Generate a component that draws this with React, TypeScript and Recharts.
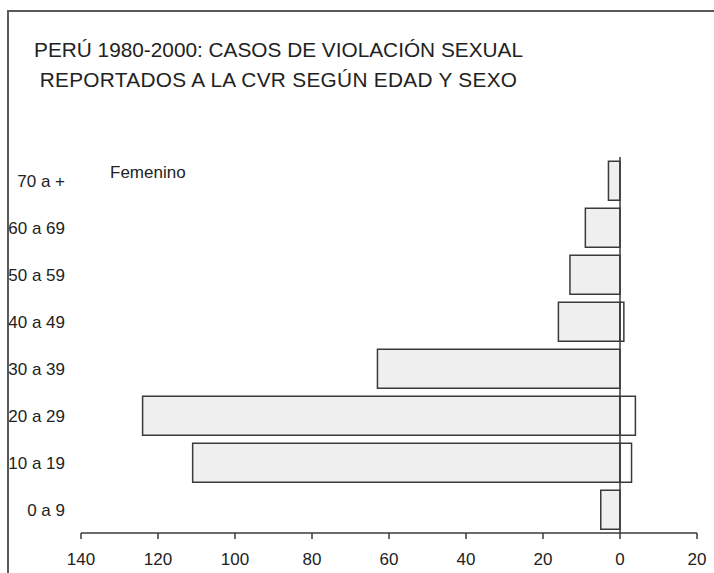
import { Bar, BarChart, ReferenceLine, XAxis, YAxis } from "recharts";

const ageGroups = ["0 a 9", "10 a 19", "20 a 29", "30 a 39", "40 a 49", "50 a 59", "60 a 69", "70 a +"];
const femenino = [5, 111, 124, 63, 16, 13, 9, 3];
const masculino = [0, 3, 4, 0, 1, 0, 0, 0];
const xTicks = [-140, -120, -100, -80, -60, -40, -20, 0, 20];

const FONT = '"Liberation Sans", Arial, sans-serif';
const INK = "#3a3a3a";

const data = ageGroups.map((age, i) => ({
  age,
  femenino: -femenino[i],
  masculino: masculino[i],
}));

export default function App() {
  return (
    <div
      style={{
        position: "fixed",
        left: 0,
        top: 0,
        width: 714,
        height: 573,
        overflow: "hidden",
        background: "#fff",
        fontFamily: FONT,
      }}
    >
      {/* frame, cut off at the right and bottom */}
      <div
        style={{
          position: "absolute",
          left: 7,
          top: 10,
          width: 760,
          height: 620,
          borderLeft: "2px solid #5a5a5a",
          borderTop: "2px solid #5a5a5a",
        }}
      />

      <div
        style={{
          position: "absolute",
          left: 0,
          top: 35,
          width: 557,
          textAlign: "center",
          fontSize: 20.8,
          lineHeight: "30px",
          color: "#222",
        }}
      >
        <div>PERÚ 1980-2000: CASOS DE VIOLACIÓN SEXUAL</div>
        <div style={{ letterSpacing: 0.3 }}>REPORTADOS A LA CVR SEGÚN EDAD Y SEXO</div>
      </div>

      <div
        style={{
          position: "absolute",
          left: 110,
          top: 163,
          fontSize: 17,
          color: "#222",
        }}
      >
        Femenino
      </div>

      <div style={{ position: "absolute", left: 0, top: 0 }}>
        <BarChart
          width={714}
          height={573}
          data={data}
          layout="vertical"
          stackOffset="sign"
          barCategoryGap="9%"
          margin={{ top: 157, right: 17, bottom: 8, left: 0 }}
        >
          <XAxis
            type="number"
            domain={[-140, 20]}
            ticks={xTicks}
            allowDataOverflow
            tickFormatter={(v) => String(Math.abs(v))}
            tick={{ fontSize: 17, fill: "#222", fontFamily: FONT }}
            axisLine={{ stroke: INK, strokeWidth: 1.5 }}
            tickLine={{ stroke: INK, strokeWidth: 1.5 }}
            tickSize={6}
            tickMargin={14}
            height={32}
          />
          <YAxis
            type="category"
            dataKey="age"
            reversed
            width={81}
            axisLine={false}
            tickLine={false}
            tickSize={6}
            tickMargin={10}
            tick={{ fontSize: 17, fill: "#222", fontFamily: FONT }}
          />
          <ReferenceLine x={0} stroke={INK} strokeWidth={1.5} />
          <Bar
            dataKey="femenino"
            stackId="edad"
            fill="#efefef"
            stroke={INK}
            strokeWidth={1.5}
            isAnimationActive={false}
          />
          <Bar
            dataKey="masculino"
            stackId="edad"
            fill="#ffffff"
            stroke={INK}
            strokeWidth={1.5}
            isAnimationActive={false}
          />
        </BarChart>
      </div>
    </div>
  );
}
